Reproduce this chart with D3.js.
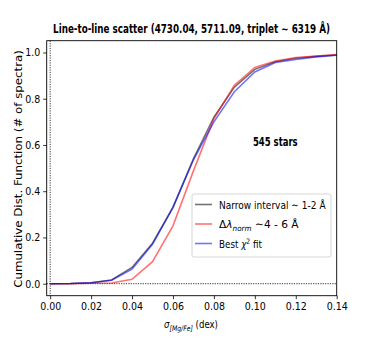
<!DOCTYPE html>
<html>
<head>
<meta charset="utf-8">
<script src="https://cdn.jsdelivr.net/npm/d3@7"></script>
<style>
  body { margin: 0; background: #fff; }
  text { font-family: "DejaVu Sans Condensed", "DejaVu Sans", sans-serif; }
</style>
</head>
<body>
<div id="chart"></div>
<script>
// sigma values (dex)
var sigmaVals = [0, 0.01, 0.02, 0.03, 0.04, 0.05, 0.06, 0.07, 0.08, 0.09, 0.10, 0.11, 0.12, 0.13, 0.14];
// cumulative fractions
var narrowVals = [0, 0.001, 0.004, 0.016, 0.07, 0.175, 0.33, 0.54, 0.72, 0.85, 0.927, 0.96, 0.975, 0.983, 0.989];
var normVals = [0, 0.0, 0.002, 0.003, 0.019, 0.095, 0.25, 0.488, 0.714, 0.858, 0.935, 0.963, 0.978, 0.985, 0.991];
var chiVals = [0, 0.001, 0.004, 0.015, 0.063, 0.17, 0.33, 0.536, 0.70, 0.83, 0.916, 0.957, 0.97, 0.981, 0.988];
var xTicks = [0, 0.02, 0.04, 0.06, 0.08, 0.10, 0.12, 0.14];
var yTicks = [0, 0.2, 0.4, 0.6, 0.8, 1.0];

var svgWidth = 374, svgHeight = 338;
var margin = { top: 40.7, right: 37.3, bottom: 42.3, left: 46.7 };
var chartWidth = svgWidth - margin.left - margin.right;
var chartHeight = svgHeight - margin.top - margin.bottom;

var svg = d3.select("#chart").append("svg")
  .attr("width", svgWidth)
  .attr("height", svgHeight);

var chartGroup = svg.append("g")
  .attr("transform", `translate(${margin.left}, ${margin.top})`);

var xScale = d3.scaleLinear().domain([-0.0017, 0.14]).range([0, chartWidth]);
var yScale = d3.scaleLinear().domain([-0.052, 1.051]).range([chartHeight, 0]);

// squeeze a text horizontally so it takes the width seen in the picture
function fitText(textSel, width) {
  var w = textSel.node().getBBox().width;
  textSel.attr("transform", `scale(${width / w}, 1)`);
}

// dotted reference lines
chartGroup.append("line")
  .attr("x1", xScale(0)).attr("x2", xScale(0))
  .attr("y1", 0).attr("y2", chartHeight)
  .attr("stroke", "#000").attr("stroke-width", 0.8)
  .attr("stroke-dasharray", "1.2,1.2");
chartGroup.append("line")
  .attr("x1", 0).attr("x2", chartWidth)
  .attr("y1", yScale(0)).attr("y2", yScale(0))
  .attr("stroke", "#000").attr("stroke-width", 0.8)
  .attr("stroke-dasharray", "1.2,1.2");

// series
var series = [
  { name: "narrow", vals: narrowVals, color: "#000", opacity: 0.55 },
  { name: "norm", vals: normVals, color: "#ff0000", opacity: 0.55 },
  { name: "chi", vals: chiVals, color: "#0000ff", opacity: 0.55 }
];

var line = d3.line()
  .x(d => xScale(d[0]))
  .y(d => yScale(d[1]));

series.forEach(function(s) {
  chartGroup.append("path")
    .datum(sigmaVals.map((x, i) => [x, s.vals[i]]))
    .attr("d", line)
    .attr("fill", "none")
    .attr("stroke", s.color)
    .attr("stroke-opacity", s.opacity)
    .attr("stroke-width", 1.6);
});

// axes
var bottomAxis = d3.axisBottom(xScale).tickValues(xTicks)
  .tickFormat(d3.format(".2f")).tickSizeInner(3.5).tickSizeOuter(0).tickPadding(3);
var leftAxis = d3.axisLeft(yScale).tickValues(yTicks)
  .tickFormat(d3.format(".1f")).tickSizeInner(3.5).tickSizeOuter(0).tickPadding(3);

var xAxis = chartGroup.append("g")
  .attr("transform", `translate(0, ${chartHeight})`)
  .call(bottomAxis);
var yAxis = chartGroup.append("g").call(leftAxis);

[xAxis, yAxis].forEach(function(ax) {
  ax.select(".domain").remove();
  ax.selectAll("text").attr("font-size", "10.5px").attr("fill", "#000")
    .attr("font-family", "DejaVu Sans Condensed, DejaVu Sans, sans-serif");
  ax.selectAll("line").attr("stroke", "#000").attr("stroke-width", 0.8);
});

// frame
chartGroup.append("rect")
  .attr("width", chartWidth).attr("height", chartHeight)
  .attr("fill", "none").attr("stroke", "#000").attr("stroke-width", 0.9);

// title
var title = svg.append("g").attr("transform", "translate(191.5, 33)")
  .append("text")
  .attr("text-anchor", "middle")
  .attr("font-size", "11.5px").attr("font-weight", "bold")
  .text("Line-to-line scatter (4730.04, 5711.09, triplet \u223C 6319 \u00C5)");
fitText(title, 277);

// 545 stars
var stars = chartGroup.append("g")
  .attr("transform", `translate(${xScale(0.11)}, ${yScale(0.6) + 1})`)
  .append("text")
  .attr("text-anchor", "middle")
  .attr("font-size", "12.5px").attr("font-weight", "bold")
  .text("545 stars");
fitText(stars, 45);

// y label
var ylab = svg.append("g").attr("transform", "translate(22, 169) rotate(-90)")
  .append("text")
  .attr("text-anchor", "middle")
  .attr("font-size", "10.5px")
  .text("Cumulative Dist. Function (# of spectra)");
fitText(ylab, 238);

// x label
var xl = svg.append("g").attr("transform", "translate(191, 328)")
  .append("text")
  .attr("text-anchor", "middle")
  .attr("font-size", "10.5px");
xl.append("tspan").attr("font-style", "italic").text("\u03C3");
xl.append("tspan").attr("font-size", "7.5px").attr("font-style", "italic").attr("dy", 2.5).text("[Mg/Fe]");
xl.append("tspan").attr("dy", -2.5).text(" (dex)");
fitText(xl, 54);

// legend
var legend = svg.append("g").attr("transform", "translate(192, 194)");
legend.append("rect")
  .attr("width", 139).attr("height", 63).attr("rx", 2)
  .attr("fill", "#fff").attr("fill-opacity", 0.8)
  .attr("stroke", "#ccc").attr("stroke-width", 0.8);

var legendWidths = [107, 80, 43];
[0, 1, 2].forEach(function(i) {
  var s = series[i];
  var yy = 10.5 + i * 19.5;
  legend.append("line")
    .attr("x1", 3).attr("x2", 20).attr("y1", yy).attr("y2", yy)
    .attr("stroke", s.color).attr("stroke-opacity", s.opacity)
    .attr("stroke-width", 1.6);
  var t = legend.append("g").attr("transform", `translate(27, ${yy + 4})`)
    .append("text")
    .attr("font-size", "11px");
  if (i === 0) {
    t.text("Narrow interval  \u223C  1-2 \u00C5");
  } else if (i === 1) {
    t.append("tspan").text("\u0394");
    t.append("tspan").attr("font-style", "italic").text("\u03BB");
    t.append("tspan").attr("font-size", "7.5px").attr("font-style", "italic").attr("dy", 2.5).text("norm");
    t.append("tspan").attr("dy", -2.5).text("  \u223C4 - 6 \u00C5");
  } else {
    t.append("tspan").text("Best ");
    t.append("tspan").attr("font-style", "italic").text("\u03C7");
    t.append("tspan").attr("font-size", "7.5px").attr("dy", -4).text("2");
    t.append("tspan").attr("dy", 4).text(" fit");
  }
  fitText(t, legendWidths[i]);
});
</script>
</body>
</html>
